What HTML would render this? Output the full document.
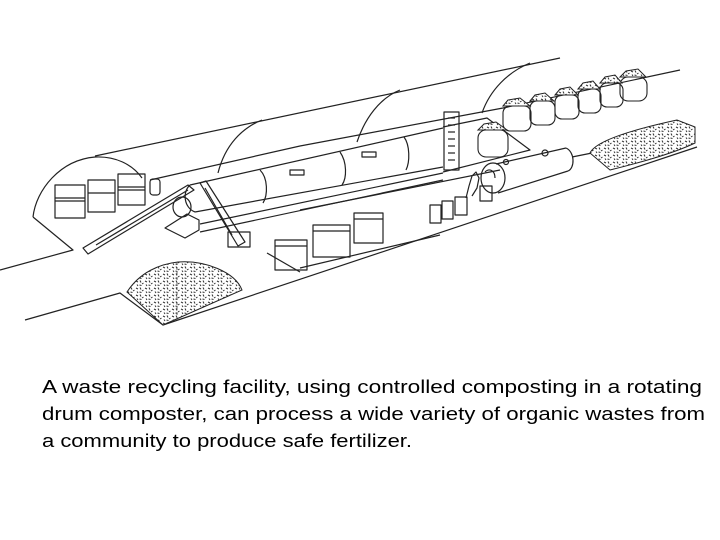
<!DOCTYPE html>
<html><head><meta charset="utf-8"><style>
html,body{margin:0;padding:0;background:#fff;width:720px;height:540px;overflow:hidden}
svg{display:block}
</style></head><body>
<svg width="720" height="540" viewBox="0 0 720 540" xmlns="http://www.w3.org/2000/svg">
<defs>
<pattern id="sp" width="9" height="7" patternUnits="userSpaceOnUse">
<rect width="9" height="7" fill="#fff"/>
<path d="M1,1 l2,1 M5,0.5 l1,2 M7,4 l1.5,-1 M2,4.5 l1,1.5 M4.5,5 l2,0.5" stroke="#333" stroke-width="1"/>
</pattern>
</defs>
<g fill="none" stroke="#222" stroke-width="1.2" stroke-linejoin="round">
<path d="M33,217 C36,190 60,160 95,157 C115,156 132,164 142,178"/>
<line x1="95" y1="156" x2="560" y2="58"/>
<polyline points="150,180 300,146 503,108 680,70"/>
<path d="M218,173 C225,145 242,128 262,120"/>
<path d="M357,142 C365,118 380,98 400,90"/>
<path d="M482,113 C490,90 508,72 530,63"/>
<polyline points="0,270 73,250 33,217"/>
<polyline points="25,320 120,293 163,325 697,147"/>
<polyline points="267,253 300,272"/>
<line x1="300" y1="210" x2="500" y2="170"/>
<line x1="300" y1="268" x2="440" y2="235"/>
<polyline points="443,127 487,118 530,150 443,172"/>
<line x1="572" y1="157" x2="592" y2="153"/>
<line x1="190" y1="185" x2="443" y2="128"/>
<line x1="195" y1="212" x2="443" y2="167"/>
<path d="M190,185 C182,192 184,208 195,212"/>
<path d="M260,170 C268,178 268,195 263,203"/>
<path d="M340,152 C347,162 347,178 342,185"/>
<path d="M404,137 C410,145 410,162 406,170"/>
<rect x="290" y="170" width="14" height="5"/>
<rect x="362" y="152" width="14" height="5"/>
<line x1="200" y1="232" x2="443" y2="180"/>
<line x1="200" y1="224" x2="443" y2="173"/>
<rect x="444" y="112" width="15" height="58"/>
<line x1="448" y1="118" x2="455" y2="118"/><line x1="448" y1="125" x2="455" y2="125"/>
<line x1="448" y1="132" x2="455" y2="132"/><line x1="448" y1="139" x2="455" y2="139"/>
<line x1="448" y1="146" x2="455" y2="146"/><line x1="448" y1="153" x2="455" y2="153"/>
<line x1="448" y1="160" x2="455" y2="160"/>
<line x1="496" y1="164" x2="566" y2="148"/>
<line x1="498" y1="193" x2="568" y2="171"/>
<path d="M566,148 C575,152 575,168 568,171"/>
<ellipse cx="493" cy="178" rx="12" ry="15"/>
<circle cx="545" cy="153" r="3"/><circle cx="506" cy="162" r="2.5"/>
<path d="M466,198 l3,-12 l3,-10 l4,-4 l3,6 l-2,10 l-5,8 M480,186 h12 v15 h-12z M485,172 c4,-4 10,-2 10,6"/>
<rect x="430" y="205" width="11" height="18"/><rect x="442" y="201" width="11" height="18"/><rect x="455" y="197" width="12" height="18"/>
<rect x="55" y="185" width="30" height="33"/><line x1="55" y1="198" x2="85" y2="198"/><line x1="55" y1="201" x2="85" y2="201"/>
<rect x="88" y="180" width="27" height="32"/><line x1="88" y1="193" x2="115" y2="193"/>
<rect x="118" y="174" width="27" height="31"/><line x1="118" y1="187" x2="145" y2="187"/><line x1="118" y1="190" x2="145" y2="190"/>
<rect x="150" y="179" width="10" height="16" rx="3"/>
<polygon points="83,248 88,254 194,190 188,185"/>
<line x1="96" y1="245" x2="188" y2="190"/>
<polygon points="200,183 206,181 245,242 238,246"/>
<line x1="205" y1="188" x2="232" y2="235"/>
<rect x="228" y="232" width="22" height="15"/>
<path d="M165,228 l22,-14 l12,6 v10 l-14,8z"/>
<ellipse cx="182" cy="207" rx="9" ry="10"/>
<rect x="275" y="240" width="32" height="30"/><line x1="275" y1="246" x2="307" y2="246"/>
<rect x="313" y="225" width="37" height="32"/><line x1="313" y1="231" x2="350" y2="231"/>
<rect x="354" y="213" width="29" height="30"/><line x1="354" y1="219" x2="383" y2="219"/>
<g stroke-width="1.1">
<rect x="503" y="106" width="28" height="25" rx="7"/><rect x="530" y="101" width="25" height="24" rx="7"/>
<rect x="555" y="95" width="24" height="24" rx="7"/><rect x="578" y="89" width="23" height="24" rx="7"/>
<rect x="600" y="83" width="23" height="24" rx="7"/><rect x="620" y="77" width="27" height="24" rx="8"/>
<rect x="478" y="130" width="30" height="27" rx="8"/>
</g>
</g>
<g fill="url(#sp)" stroke="#222" stroke-width="1">
<path d="M127,292 C140,272 160,264 178,262 C205,260 235,272 242,290 L163,325 Z"/>
<path d="M590,153 C596,140 640,128 677,120 L695,127 L695,143 C670,155 630,165 610,170 Z"/>
<path d="M503,106 l5,-6 l12,-2 l10,8z M530,101 l5,-6 l10,-2 l9,8z M555,95 l5,-6 l10,-2 l8,8z M578,89 l5,-6 l10,-2 l7,8z M600,83 l5,-6 l10,-2 l7,8z M620,77 l6,-6 l12,-2 l8,8z M478,130 l6,-6 l12,-2 l11,8z"/>
</g>
<line x1="177" y1="262" x2="177" y2="320" stroke="#444" stroke-width="0.8" stroke-dasharray="3,2"/>
<g font-family="Liberation Sans, sans-serif" font-size="18.5" fill="#000">
<text x="42" y="393" textLength="660" lengthAdjust="spacingAndGlyphs">A waste recycling facility, using controlled composting in a rotating</text>
<text x="42" y="420" textLength="663" lengthAdjust="spacingAndGlyphs">drum composter, can process a wide variety of organic wastes from</text>
<text x="42" y="447" textLength="370" lengthAdjust="spacingAndGlyphs">a community to produce safe fertilizer.</text>
</g>
</svg>
</body></html>
